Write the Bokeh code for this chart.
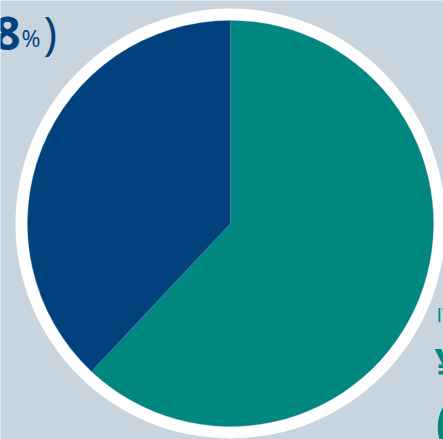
import numpy as np
from bokeh.plotting import figure
from bokeh.models import Range1d, ColumnDataSource
from bokeh.core.properties import value
from bokeh.embed import file_html
from bokeh.resources import INLINE

# data
categories = ["Teal share", "Navy share"]
shares = [62, 38]
colors = ["#00877f", "#00417e"]
top_label_main = "(38"
top_label_pct = "%"
top_label_close = ")"
side_labels = ["IT", "¥", "("]

W, H = 443, 439
BG = "#c8d5df"

p = figure(width=W, height=H, output_backend="svg", toolbar_location=None,
           x_range=Range1d(0, W), y_range=Range1d(0, H), min_border=0)
p.axis.visible = False
p.grid.visible = False
p.outline_line_color = None
p.background_fill_color = BG
p.border_fill_color = BG

cx, cy = 230, H - 223
R = 203

# white ring behind pie
p.circle(x=[cx], y=[cy], radius=R + 12, fill_color="white", line_color=None)

# wedges: navy from top counterclockwise, teal the rest
frac = np.array(shares, dtype=float) / sum(shares)
navy_span = frac[1] * 2 * np.pi
start_top = np.pi / 2
starts = [start_top + navy_span, start_top]
ends = [start_top + 2 * np.pi, start_top + navy_span]
src = ColumnDataSource(dict(cat=categories, start=starts, end=ends, color=colors))
p.wedge(x=cx, y=cy, radius=R, start_angle="start", end_angle="end",
        fill_color="color", line_color="#5a8fa8", line_alpha=0.35, line_width=1, source=src)

# top-left label (partially cut)
p.text(x=[20], y=[H - 31], text=[top_label_main], text_align="right", text_baseline="alphabetic",
       text_font=value("Open Sans"), text_font_style="bold", text_font_size="46px", text_color="#00417e")
p.text(x=[21], y=[H - 37], text=[top_label_pct], text_align="left", text_baseline="alphabetic",
       text_font=value("Open Sans"), text_font_size="23px", text_color="#00417e")
p.text(x=[43], y=[H - 31], text=[top_label_close], text_align="left", text_baseline="alphabetic",
       text_font=value("Open Sans"), text_font_size="46px", text_color="#00417e")

# right-side labels (partially cut)
p.text(x=[436], y=[H - 314], text=[side_labels[0]], text_align="left", text_baseline="alphabetic",
       text_font=value("Open Sans"), text_font_size="20px", text_color="#00877f")
p.text(x=[434], y=[H - 362], text=[side_labels[1]], text_align="left", text_baseline="alphabetic",
       text_font=value("Open Sans"), text_font_style="bold", text_font_size="42px", text_color="#00877f")
p.text(x=[435], y=[H - 420], text=[side_labels[2]], text_align="left", text_baseline="alphabetic",
       text_font=value("Open Sans"), text_font_style="bold", text_font_size="56px", text_color="#00877f")

open("out.html", "w").write(file_html(p, INLINE))
